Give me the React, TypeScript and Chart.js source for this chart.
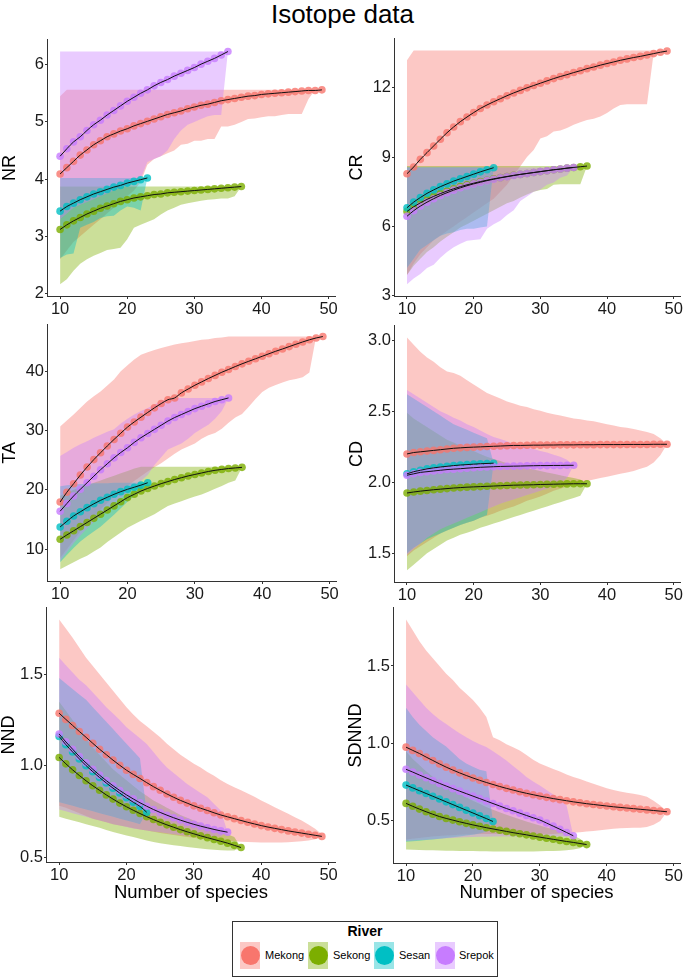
import React, { useEffect, useRef } from 'react';
import { Chart, registerables } from 'chart.js';

Chart.register(...registerables);

const FONT = '"Liberation Sans", Arial, Helvetica, sans-serif';

const rivers = ['Mekong', 'Sekong', 'Sesan', 'Srepok'];
const riverColors = ['#F8766D', '#7CAE00', '#00BFC4', '#C77CFF'];
const speciesCounts = [10, 11, 12, 13, 14, 15, 16, 17, 18, 19, 20, 21, 22, 23, 24, 25, 26, 27, 28, 29, 30, 31, 32, 33, 34, 35, 36, 37, 38, 39, 40, 41, 42, 43, 44, 45, 46, 47, 48, 49];
const xTicks = [10, 20, 30, 40, 50];

// ---------- NR ----------
const nrMekongMean = [4.09, 4.20, 4.31, 4.42, 4.51, 4.60, 4.67, 4.74, 4.79, 4.84, 4.88, 4.93, 4.97, 5.01, 5.05, 5.09, 5.13, 5.16, 5.19, 5.23, 5.26, 5.29, 5.31, 5.34, 5.37, 5.39, 5.41, 5.43, 5.45, 5.46, 5.48, 5.49, 5.50, 5.51, 5.52, 5.53, 5.54, 5.55, 5.55, 5.56];
const nrMekongLo = [2.6, 2.75, 2.9, 3.0, 3.1, 3.2, 3.3, 3.4, 3.5, 3.6, 3.7, 3.8, 3.95, 4.25, 4.35, 4.4, 4.45, 4.5, 4.6, 4.62, 4.67, 4.67, 4.7, 4.7, 4.92, 4.92, 4.95, 5.0, 5.05, 5.06, 5.08, 5.1, 5.1, 5.12, 5.14, 5.14, 5.14, 5.4, 5.56, 5.56];
const nrMekongHi = [5.45, 5.56, 5.56, 5.56, 5.56, 5.56, 5.56, 5.56, 5.56, 5.56, 5.56, 5.56, 5.56, 5.56, 5.56, 5.56, 5.56, 5.56, 5.56, 5.56, 5.56, 5.56, 5.56, 5.56, 5.56, 5.56, 5.56, 5.56, 5.56, 5.56, 5.56, 5.56, 5.56, 5.56, 5.56, 5.56, 5.56, 5.56, 5.56, 5.56];
const nrSekongMean = [3.12, 3.20, 3.27, 3.33, 3.39, 3.44, 3.49, 3.53, 3.57, 3.61, 3.64, 3.67, 3.69, 3.71, 3.73, 3.74, 3.76, 3.77, 3.78, 3.79, 3.80, 3.81, 3.82, 3.83, 3.84, 3.85, 3.86, 3.87];
const nrSekongLo = [2.16, 2.25, 2.4, 2.52, 2.6, 2.66, 2.71, 2.76, 2.78, 2.8, 2.95, 3.15, 3.2, 3.25, 3.3, 3.38, 3.45, 3.5, 3.55, 3.58, 3.6, 3.62, 3.64, 3.65, 3.66, 3.66, 3.7, 3.87];
const nrSekongHi = [3.87, 3.87, 3.87, 3.87, 3.87, 3.87, 3.87, 3.87, 3.87, 3.87, 3.87, 3.87, 3.87, 3.87, 3.87, 3.87, 3.87, 3.87, 3.87, 3.87, 3.87, 3.87, 3.87, 3.87, 3.87, 3.87, 3.87, 3.87];
const nrSesanMean = [3.44, 3.52, 3.58, 3.64, 3.69, 3.74, 3.78, 3.82, 3.86, 3.89, 3.93, 3.96, 3.99, 4.02];
const nrSesanLo = [2.62, 2.68, 2.70, 3.15, 3.2, 3.25, 3.32, 3.35, 3.36, 3.45, 3.52, 3.5, 3.45, 4.02];
const nrSesanHi = [4.02, 4.02, 4.02, 4.02, 4.02, 4.02, 4.02, 4.02, 4.02, 4.02, 4.02, 4.02, 4.02, 4.02];
const nrSrepokMean = [4.40, 4.53, 4.65, 4.74, 4.85, 4.95, 5.03, 5.12, 5.20, 5.28, 5.36, 5.43, 5.50, 5.56, 5.63, 5.69, 5.74, 5.80, 5.85, 5.90, 5.95, 6.01, 6.06, 6.11, 6.17, 6.23];
const nrSrepokLo = [3.3, 3.4, 3.5, 3.55, 3.6, 3.65, 3.7, 3.75, 3.8, 3.85, 3.9, 3.95, 4.0, 4.3, 4.35, 4.4, 4.5, 4.7, 4.85, 4.95, 5.0, 5.05, 5.1, 5.12, 5.12, 6.23];
const nrSrepokHi = [6.23, 6.23, 6.23, 6.23, 6.23, 6.23, 6.23, 6.23, 6.23, 6.23, 6.23, 6.23, 6.23, 6.23, 6.23, 6.23, 6.23, 6.23, 6.23, 6.23, 6.23, 6.23, 6.23, 6.23, 6.23, 6.23];

// ---------- CR ----------
const crMekongMean = [8.28, 8.57, 8.9, 9.19, 9.48, 9.77, 10.05, 10.3, 10.53, 10.73, 10.92, 11.1, 11.25, 11.39, 11.52, 11.65, 11.77, 11.88, 11.99, 12.09, 12.19, 12.29, 12.39, 12.48, 12.56, 12.65, 12.73, 12.82, 12.89, 12.97, 13.04, 13.11, 13.18, 13.24, 13.3, 13.35, 13.41, 13.47, 13.53, 13.58];
const crMekongLo = [3.9, 4.4, 4.8, 5.1, 5.4, 5.6, 5.8, 6.0, 6.2, 6.4, 6.6, 6.8, 7.0, 7.2, 7.5, 7.8, 8.2, 8.6, 9.0, 9.3, 9.8, 9.9, 10.1, 10.15, 10.25, 10.4, 10.5, 10.6, 10.65, 10.75, 10.9, 11.1, 11.25, 11.28, 11.28, 11.28, 11.28, 13.5, 13.6, 13.6];
const crMekongHi = [13.18, 13.6, 13.6, 13.6, 13.6, 13.6, 13.6, 13.6, 13.6, 13.6, 13.6, 13.6, 13.6, 13.6, 13.6, 13.6, 13.6, 13.6, 13.6, 13.6, 13.6, 13.6, 13.6, 13.6, 13.6, 13.6, 13.6, 13.6, 13.6, 13.6, 13.6, 13.6, 13.6, 13.6, 13.6, 13.6, 13.6, 13.6, 13.6, 13.6];
const crSekongMean = [6.65, 6.85, 7.02, 7.17, 7.3, 7.42, 7.53, 7.63, 7.72, 7.8, 7.87, 7.94, 8.0, 8.06, 8.11, 8.16, 8.21, 8.25, 8.29, 8.33, 8.37, 8.41, 8.45, 8.48, 8.52, 8.55, 8.58, 8.61];
const crSekongLo = [3.9, 4.3, 4.6, 4.9, 5.1, 5.35, 5.55, 5.75, 5.95, 6.1, 6.25, 6.4, 6.55, 6.7, 6.85, 7.0, 7.1, 7.25, 7.38, 7.5, 7.58, 7.62, 7.8, 7.82, 7.82, 7.82, 7.82, 8.61];
const crSekongHi = [8.61, 8.61, 8.61, 8.61, 8.61, 8.61, 8.61, 8.61, 8.61, 8.61, 8.61, 8.61, 8.61, 8.61, 8.61, 8.61, 8.61, 8.61, 8.61, 8.61, 8.61, 8.61, 8.61, 8.61, 8.61, 8.61, 8.61, 8.61];
const crSesanMean = [6.81, 7.05, 7.25, 7.43, 7.58, 7.72, 7.84, 7.96, 8.06, 8.16, 8.26, 8.36, 8.45, 8.54];
const crSesanLo = [4.2, 4.6, 5.0, 5.2, 5.4, 5.6, 5.7, 5.75, 5.85, 5.9, 5.9, 5.95, 6.0, 8.54];
const crSesanHi = [8.56, 8.56, 8.56, 8.56, 8.56, 8.56, 8.56, 8.56, 8.56, 8.56, 8.56, 8.56, 8.56, 8.54];
const crSrepokMean = [6.44, 6.68, 6.88, 7.05, 7.2, 7.34, 7.46, 7.57, 7.67, 7.76, 7.84, 7.91, 7.98, 8.04, 8.1, 8.15, 8.2, 8.25, 8.29, 8.33, 8.37, 8.41, 8.45, 8.48, 8.52, 8.55];
const crSrepokLo = [3.5, 3.75, 3.95, 4.2, 4.35, 4.65, 4.9, 5.1, 5.25, 5.38, 5.42, 5.45, 5.9, 6.1, 6.25, 6.5, 6.7, 7.1, 7.3, 7.5, 7.6, 7.8, 7.9, 8.1, 8.2, 8.55];
const crSrepokHi = [8.55, 8.55, 8.55, 8.55, 8.55, 8.55, 8.55, 8.55, 8.55, 8.55, 8.55, 8.55, 8.55, 8.55, 8.55, 8.55, 8.55, 8.55, 8.55, 8.55, 8.55, 8.55, 8.55, 8.55, 8.55, 8.55];

// ---------- TA ----------
const taMekongMean = [17.96, 19.6, 21.04, 22.5, 23.85, 25.1, 26.26, 27.4, 28.5, 29.55, 30.58, 31.45, 32.26, 33.05, 33.83, 34.55, 35.2, 35.5, 36.35, 37.0, 37.64, 38.2, 38.77, 39.3, 39.83, 40.3, 40.79, 41.25, 41.68, 42.1, 42.52, 42.95, 43.37, 43.75, 44.15, 44.55, 44.94, 45.3, 45.61, 45.85];
const taMekongLo = [8.5, 10, 11.5, 13, 14.3, 15.5, 16.7, 17.8, 18.8, 19.8, 20.7, 21.5, 22.3, 23.1, 23.8, 24.5, 25.3, 26.1, 26.8, 27.3, 27.8, 28.6, 29.2, 29.6, 30.3, 31.3, 32.2, 32.8, 34.0, 35.3, 36.5, 37.2, 37.7, 38.1, 38.5, 38.7, 39.0, 39.8, 45.85, 45.85];
const taMekongHi = [30.7, 31.7, 32.7, 33.8, 34.9, 35.8, 36.6, 37.6, 38.6, 40.0, 41.0, 42.0, 42.8, 43.2, 43.6, 43.9, 44.2, 44.5, 44.7, 44.9, 45.1, 45.3, 45.4, 45.6, 45.7, 45.85, 45.85, 45.85, 45.85, 45.85, 45.85, 45.85, 45.85, 45.85, 45.85, 45.85, 45.85, 45.85, 45.85, 45.85];
const taSekongMean = [11.68, 12.4, 13.1, 13.8, 14.5, 15.2, 15.9, 16.6, 17.3, 18.0, 18.7, 19.25, 19.8, 20.25, 20.65, 21.05, 21.4, 21.75, 22.05, 22.35, 22.6, 22.85, 23.1, 23.3, 23.45, 23.6, 23.7, 23.8];
const taSekongLo = [6.6, 7.2, 7.8, 8.4, 8.9, 9.6, 10.3, 11.2, 12.0, 12.8, 13.6, 14.2, 14.8, 15.35, 15.9, 16.6, 17.3, 17.7, 18.1, 18.5, 18.9, 19.2, 19.7, 20.2, 20.65, 21.2, 21.6, 23.8];
const taSekongHi = [19.0, 19.5, 20.0, 20.4, 20.8, 21.2, 21.6, 22.0, 22.4, 22.8, 23.2, 23.6, 23.9, 23.9, 23.9, 23.9, 23.9, 23.9, 23.9, 23.9, 23.9, 23.9, 23.9, 23.9, 23.9, 23.9, 23.9, 23.8];
const taSesanMean = [13.75, 14.7, 15.6, 16.3, 17.0, 17.65, 18.24, 18.75, 19.25, 19.7, 20.1, 20.45, 20.8, 21.2];
const taSesanLo = [7.8, 9.0, 10.2, 11.3, 12.2, 13.0, 13.8, 14.8, 15.8, 16.9, 18.0, 19.0, 20.0, 21.2];
const taSesanHi = [20.6, 20.8, 20.9, 21.0, 21.0, 21.1, 21.1, 21.1, 21.2, 21.2, 21.2, 21.2, 21.2, 21.2];
const taSrepokMean = [16.4, 17.7, 18.97, 20.1, 21.2, 22.3, 23.4, 24.4, 25.4, 26.3, 27.1, 28.0, 28.8, 29.5, 30.2, 30.9, 31.6, 32.2, 32.7, 33.2, 33.7, 34.1, 34.5, 34.9, 35.2, 35.5];
const taSrepokLo = [8, 9.5, 11, 12.3, 13.5, 14.6, 15.7, 16.7, 17.7, 18.6, 19.5, 20.5, 21.5, 22.5, 24.2, 25.5, 26.8, 27.3, 27.8, 28.6, 29.6, 30.3, 31.0, 32.0, 33.3, 35.5];
const taSrepokHi = [25.7, 26.4, 27.1, 27.7, 28.2, 28.8, 29.3, 29.8, 30.2, 31.2, 32.0, 32.7, 33.3, 33.8, 34.4, 35.0, 35.3, 35.5, 35.5, 35.5, 35.5, 35.5, 35.5, 35.5, 35.5, 35.5];

// ---------- CD ----------
const cdMekongMean = [2.20, 2.21, 2.215, 2.22, 2.225, 2.23, 2.235, 2.24, 2.243, 2.246, 2.248, 2.25, 2.252, 2.254, 2.256, 2.258, 2.26, 2.26, 2.261, 2.262, 2.262, 2.263, 2.263, 2.264, 2.264, 2.264, 2.265, 2.265, 2.265, 2.266, 2.266, 2.266, 2.266, 2.267, 2.267, 2.267, 2.267, 2.268, 2.268, 2.268];
const cdMekongLo = [1.48, 1.52, 1.55, 1.58, 1.61, 1.64, 1.66, 1.68, 1.70, 1.715, 1.73, 1.75, 1.765, 1.78, 1.80, 1.815, 1.83, 1.85, 1.87, 1.885, 1.90, 1.92, 1.94, 1.955, 1.97, 1.985, 2.0, 2.01, 2.02, 2.03, 2.04, 2.05, 2.06, 2.07, 2.08, 2.095, 2.11, 2.14, 2.19, 2.268];
const cdMekongHi = [3.02, 2.97, 2.92, 2.88, 2.85, 2.81, 2.78, 2.77, 2.75, 2.72, 2.69, 2.66, 2.63, 2.61, 2.59, 2.57, 2.555, 2.54, 2.53, 2.515, 2.505, 2.49, 2.48, 2.47, 2.46, 2.45, 2.445, 2.435, 2.43, 2.42, 2.41, 2.40, 2.39, 2.385, 2.375, 2.365, 2.355, 2.34, 2.31, 2.268];
const cdSekongMean = [1.925, 1.932, 1.938, 1.943, 1.948, 1.952, 1.956, 1.96, 1.963, 1.966, 1.968, 1.97, 1.972, 1.974, 1.976, 1.978, 1.98, 1.981, 1.982, 1.983, 1.985, 1.986, 1.987, 1.988, 1.989, 1.99, 1.99, 1.99];
const cdSekongLo = [1.38, 1.42, 1.46, 1.5, 1.53, 1.56, 1.59, 1.61, 1.63, 1.645, 1.66, 1.68, 1.695, 1.71, 1.725, 1.74, 1.755, 1.77, 1.785, 1.8, 1.815, 1.83, 1.845, 1.86, 1.875, 1.89, 1.905, 1.99];
const cdSekongHi = [2.49, 2.45, 2.42, 2.39, 2.36, 2.33, 2.3, 2.28, 2.26, 2.24, 2.22, 2.2, 2.18, 2.165, 2.15, 2.135, 2.12, 2.11, 2.1, 2.09, 2.08, 2.07, 2.06, 2.05, 2.04, 2.03, 2.02, 1.99];
const cdSesanMean = [2.06, 2.075, 2.085, 2.095, 2.102, 2.108, 2.113, 2.118, 2.122, 2.125, 2.128, 2.131, 2.133, 2.135];
const cdSesanLo = [1.5, 1.54, 1.57, 1.6, 1.62, 1.64, 1.66, 1.68, 1.7, 1.715, 1.73, 1.75, 1.77, 2.135];
const cdSesanHi = [2.62, 2.59, 2.56, 2.53, 2.5, 2.47, 2.44, 2.41, 2.39, 2.37, 2.35, 2.33, 2.31, 2.135];
const cdSrepokMean = [2.05, 2.06, 2.07, 2.075, 2.08, 2.085, 2.09, 2.093, 2.096, 2.1, 2.103, 2.106, 2.108, 2.11, 2.112, 2.113, 2.114, 2.115, 2.116, 2.117, 2.118, 2.118, 2.119, 2.119, 2.12, 2.12];
const cdSrepokLo = [1.49, 1.53, 1.57, 1.61, 1.64, 1.67, 1.69, 1.71, 1.73, 1.75, 1.77, 1.79, 1.81, 1.83, 1.85, 1.865, 1.88, 1.895, 1.91, 1.925, 1.94, 1.955, 1.97, 1.99, 2.03, 2.12];
const cdSrepokHi = [2.65, 2.62, 2.59, 2.56, 2.53, 2.50, 2.48, 2.455, 2.435, 2.41, 2.39, 2.365, 2.34, 2.32, 2.305, 2.29, 2.27, 2.26, 2.245, 2.235, 2.22, 2.21, 2.195, 2.18, 2.16, 2.12];

// ---------- NND ----------
const nndMekongMean = [1.287, 1.253, 1.22, 1.187, 1.155, 1.122, 1.09, 1.06, 1.03, 1.002, 0.975, 0.952, 0.93, 0.907, 0.885, 0.865, 0.845, 0.827, 0.81, 0.795, 0.78, 0.767, 0.755, 0.742, 0.73, 0.72, 0.71, 0.7, 0.69, 0.681, 0.672, 0.664, 0.657, 0.65, 0.643, 0.637, 0.631, 0.625, 0.619, 0.613];
const nndMekongLo = [0.78, 0.77, 0.755, 0.74, 0.725, 0.71, 0.70, 0.69, 0.68, 0.672, 0.665, 0.658, 0.651, 0.645, 0.638, 0.632, 0.626, 0.62, 0.615, 0.61, 0.605, 0.60, 0.597, 0.594, 0.591, 0.588, 0.586, 0.584, 0.582, 0.581, 0.58, 0.58, 0.58, 0.58, 0.581, 0.583, 0.586, 0.59, 0.597, 0.613];
const nndMekongHi = [1.80, 1.75, 1.70, 1.645, 1.59, 1.545, 1.5, 1.455, 1.41, 1.365, 1.32, 1.28, 1.245, 1.215, 1.185, 1.155, 1.12, 1.09, 1.06, 1.035, 1.01, 0.99, 0.965, 0.945, 0.92, 0.9, 0.882, 0.865, 0.847, 0.83, 0.81, 0.792, 0.773, 0.755, 0.737, 0.718, 0.70, 0.678, 0.655, 0.625];
const nndSekongMean = [1.045, 1.01, 0.977, 0.946, 0.917, 0.89, 0.865, 0.84, 0.817, 0.795, 0.775, 0.756, 0.738, 0.721, 0.705, 0.69, 0.676, 0.663, 0.65, 0.638, 0.627, 0.616, 0.606, 0.596, 0.586, 0.576, 0.564, 0.552];
const nndSekongLo = [0.72, 0.71, 0.70, 0.69, 0.68, 0.67, 0.66, 0.648, 0.637, 0.627, 0.618, 0.609, 0.6, 0.591, 0.582, 0.576, 0.57, 0.565, 0.56, 0.555, 0.551, 0.547, 0.543, 0.54, 0.537, 0.536, 0.536, 0.552];
const nndSekongHi = [1.35, 1.3, 1.25, 1.2, 1.15, 1.1, 1.06, 1.02, 0.98, 0.95, 0.92, 0.89, 0.86, 0.835, 0.81, 0.79, 0.77, 0.75, 0.73, 0.715, 0.7, 0.685, 0.67, 0.655, 0.64, 0.625, 0.61, 0.552];
const nndSesanMean = [1.16, 1.115, 1.075, 1.037, 1.0, 0.967, 0.935, 0.905, 0.877, 0.85, 0.824, 0.8, 0.777, 0.745];
const nndSesanLo = [0.80, 0.79, 0.78, 0.77, 0.76, 0.75, 0.74, 0.73, 0.72, 0.71, 0.70, 0.69, 0.68, 0.745];
const nndSesanHi = [1.48, 1.45, 1.42, 1.39, 1.36, 1.32, 1.28, 1.24, 1.2, 1.16, 1.12, 1.08, 1.04, 0.745];
const nndSrepokMean = [1.173, 1.13, 1.09, 1.05, 1.015, 0.98, 0.948, 0.918, 0.89, 0.864, 0.84, 0.818, 0.797, 0.778, 0.76, 0.744, 0.729, 0.715, 0.702, 0.69, 0.679, 0.669, 0.66, 0.651, 0.643, 0.636];
const nndSrepokLo = [0.76, 0.75, 0.74, 0.73, 0.72, 0.71, 0.70, 0.69, 0.68, 0.672, 0.664, 0.656, 0.65, 0.645, 0.64, 0.635, 0.63, 0.625, 0.62, 0.617, 0.614, 0.612, 0.61, 0.61, 0.612, 0.636];
const nndSrepokHi = [1.59, 1.55, 1.51, 1.47, 1.44, 1.40, 1.36, 1.32, 1.285, 1.25, 1.21, 1.18, 1.15, 1.118, 1.075, 1.03, 0.99, 0.96, 0.93, 0.9, 0.875, 0.85, 0.827, 0.79, 0.755, 0.636];

// ---------- SDNND ----------
const sdMekongMean = [0.976, 0.955, 0.935, 0.912, 0.89, 0.868, 0.847, 0.828, 0.81, 0.793, 0.777, 0.762, 0.748, 0.735, 0.722, 0.71, 0.699, 0.688, 0.678, 0.669, 0.66, 0.652, 0.644, 0.637, 0.63, 0.623, 0.617, 0.611, 0.606, 0.601, 0.596, 0.591, 0.587, 0.583, 0.579, 0.575, 0.571, 0.567, 0.563, 0.559];
const sdMekongLo = [0.38, 0.385, 0.39, 0.395, 0.4, 0.403, 0.406, 0.408, 0.41, 0.412, 0.414, 0.415, 0.416, 0.416, 0.415, 0.414, 0.413, 0.412, 0.412, 0.412, 0.413, 0.414, 0.416, 0.418, 0.42, 0.423, 0.427, 0.431, 0.435, 0.44, 0.445, 0.449, 0.452, 0.454, 0.455, 0.456, 0.46, 0.475, 0.5, 0.559];
const sdMekongHi = [1.80, 1.73, 1.66, 1.60, 1.55, 1.50, 1.45, 1.41, 1.36, 1.32, 1.28, 1.23, 1.17, 1.04, 1.02, 0.995, 0.975, 0.955, 0.925, 0.895, 0.87, 0.852, 0.835, 0.818, 0.8, 0.784, 0.77, 0.755, 0.74, 0.725, 0.71, 0.7, 0.69, 0.682, 0.675, 0.667, 0.655, 0.63, 0.6, 0.559];
const sdSekongMean = [0.613, 0.594, 0.576, 0.559, 0.543, 0.528, 0.516, 0.505, 0.494, 0.484, 0.474, 0.465, 0.456, 0.448, 0.44, 0.432, 0.424, 0.417, 0.41, 0.402, 0.395, 0.388, 0.381, 0.374, 0.367, 0.361, 0.354, 0.347];
const sdSekongLo = [0.315, 0.313, 0.312, 0.311, 0.31, 0.309, 0.308, 0.307, 0.306, 0.305, 0.305, 0.304, 0.304, 0.303, 0.303, 0.303, 0.303, 0.303, 0.303, 0.303, 0.304, 0.305, 0.306, 0.308, 0.311, 0.316, 0.323, 0.347];
const sdSekongHi = [0.95, 0.9, 0.86, 0.82, 0.785, 0.755, 0.725, 0.7, 0.675, 0.652, 0.63, 0.61, 0.59, 0.572, 0.555, 0.54, 0.525, 0.51, 0.496, 0.483, 0.47, 0.458, 0.446, 0.434, 0.42, 0.405, 0.385, 0.347];
const sdSesanMean = [0.731, 0.713, 0.695, 0.677, 0.659, 0.641, 0.623, 0.605, 0.587, 0.569, 0.551, 0.533, 0.515, 0.496];
const sdSesanLo = [0.365, 0.368, 0.372, 0.376, 0.38, 0.385, 0.39, 0.395, 0.4, 0.405, 0.41, 0.418, 0.43, 0.496];
const sdSesanHi = [1.23, 1.17, 1.12, 1.08, 1.04, 1.01, 0.98, 0.94, 0.9, 0.87, 0.85, 0.83, 0.82, 0.496];
const sdSrepokMean = [0.833, 0.815, 0.796, 0.778, 0.76, 0.742, 0.725, 0.708, 0.692, 0.676, 0.66, 0.644, 0.628, 0.612, 0.596, 0.58, 0.565, 0.55, 0.535, 0.52, 0.506, 0.486, 0.466, 0.446, 0.425, 0.404];
const sdSrepokLo = [0.37, 0.373, 0.376, 0.379, 0.382, 0.385, 0.388, 0.39, 0.392, 0.394, 0.396, 0.397, 0.398, 0.399, 0.4, 0.4, 0.4, 0.4, 0.4, 0.4, 0.4, 0.4, 0.4, 0.4, 0.4, 0.404];
const sdSrepokHi = [1.38, 1.33, 1.28, 1.23, 1.19, 1.155, 1.126, 1.095, 1.066, 1.04, 1.015, 0.995, 0.977, 0.95, 0.92, 0.89, 0.855, 0.82, 0.784, 0.755, 0.728, 0.7, 0.67, 0.64, 0.6, 0.404];

const nrTicks = [2, 3, 4, 5, 6];
const crTicks = [3, 6, 9, 12];
const taTicks = [10, 20, 30, 40];
const cdTicks = [1.5, 2.0, 2.5, 3.0];
const nndTicks = [0.5, 1.0, 1.5];
const sdTicks = [0.5, 1.0, 1.5];

type Series = [number[], number[], number[]];
interface PanelDef {
  label: string;
  yTicks: number[];
  decimals: number;
  series: Series[];
  area: [number, number, number, number];
}

const panels: PanelDef[] = [
  { label: 'NR', yTicks: nrTicks, decimals: 0, area: [47, 39, 335, 296],
    series: [[nrMekongMean, nrMekongLo, nrMekongHi], [nrSekongMean, nrSekongLo, nrSekongHi], [nrSesanMean, nrSesanLo, nrSesanHi], [nrSrepokMean, nrSrepokLo, nrSrepokHi]] },
  { label: 'CR', yTicks: crTicks, decimals: 0, area: [394, 38, 680, 296],
    series: [[crMekongMean, crMekongLo, crMekongHi], [crSekongMean, crSekongLo, crSekongHi], [crSesanMean, crSesanLo, crSesanHi], [crSrepokMean, crSrepokLo, crSrepokHi]] },
  { label: 'TA', yTicks: taTicks, decimals: 0, area: [47, 324, 336, 581],
    series: [[taMekongMean, taMekongLo, taMekongHi], [taSekongMean, taSekongLo, taSekongHi], [taSesanMean, taSesanLo, taSesanHi], [taSrepokMean, taSrepokLo, taSrepokHi]] },
  { label: 'CD', yTicks: cdTicks, decimals: 1, area: [394, 325, 680, 582],
    series: [[cdMekongMean, cdMekongLo, cdMekongHi], [cdSekongMean, cdSekongLo, cdSekongHi], [cdSesanMean, cdSesanLo, cdSesanHi], [cdSrepokMean, cdSrepokLo, cdSrepokHi]] },
  { label: 'NND', yTicks: nndTicks, decimals: 1, area: [46, 607, 335, 862],
    series: [[nndMekongMean, nndMekongLo, nndMekongHi], [nndSekongMean, nndSekongLo, nndSekongHi], [nndSesanMean, nndSesanLo, nndSesanHi], [nndSrepokMean, nndSrepokLo, nndSrepokHi]] },
  { label: 'SDNND', yTicks: sdTicks, decimals: 1, area: [393, 607, 680, 863],
    series: [[sdMekongMean, sdMekongLo, sdMekongHi], [sdSekongMean, sdSekongLo, sdSekongHi], [sdSesanMean, sdSesanLo, sdSesanHi], [sdSrepokMean, sdSrepokLo, sdSrepokHi]] },
];

const Y_W = 47;
const X_H = 26;
const PAD_T = 10;
const PAD_R = 8;

function rgba(hex: string, a: number) {
  const r = parseInt(hex.slice(1, 3), 16);
  const g = parseInt(hex.slice(3, 5), 16);
  const b = parseInt(hex.slice(5, 7), 16);
  return `rgba(${r},${g},${b},${a})`;
}

function PanelChart({ panel }: { panel: PanelDef }) {
  const ref = useRef<HTMLCanvasElement | null>(null);
  const [L, T, R, B] = panel.area;
  const cl = L - Y_W;
  const ct = T - PAD_T;
  const cw = R - cl + PAD_R;
  const ch = B - ct + X_H;

  useEffect(() => {
    if (!ref.current) return;
    const datasets: any[] = [];
    let lo = Infinity;
    let hi = -Infinity;
    panel.series.forEach(([mean, low, high], ri) => {
      const xs = speciesCounts.slice(0, mean.length);
      const idx = datasets.length;
      low.forEach((v) => { lo = Math.min(lo, v); });
      high.forEach((v) => { hi = Math.max(hi, v); });
      datasets.push({
        data: xs.map((x, i) => ({ x, y: high[i] })),
        borderColor: 'transparent', borderWidth: 0, pointRadius: 0,
        fill: idx + 1, backgroundColor: rgba(riverColors[ri], 0.4), order: 40 - ri,
      });
      datasets.push({
        data: xs.map((x, i) => ({ x, y: low[i] })),
        borderColor: 'transparent', borderWidth: 0, pointRadius: 0, fill: false, order: 40 - ri,
      });
    });
    panel.series.forEach(([mean], ri) => {
      const xs = speciesCounts.slice(0, mean.length);
      datasets.push({
        data: xs.map((x, i) => ({ x, y: mean[i] })),
        showLine: false, pointRadius: 3.8, pointBackgroundColor: rgba(riverColors[ri], 0.8),
        pointBorderWidth: 0, pointBorderColor: 'transparent', borderColor: 'transparent', fill: false, order: 20 - ri,
      });
    });
    panel.series.forEach(([mean], ri) => {
      const xs = speciesCounts.slice(0, mean.length);
      datasets.push({
        data: xs.map((x, i) => ({ x, y: mean[i] })),
        borderColor: '#111', borderWidth: 1, pointRadius: 0, fill: false,
        cubicInterpolationMode: 'monotone', order: 10 - ri,
      });
    });
    const pad = (hi - lo) * 0.05;
    const tickFont = { family: FONT, size: 16.5 };
    const chart = new Chart(ref.current, {
      type: 'line',
      data: { datasets },
      options: {
        animation: false,
        responsive: false,
        maintainAspectRatio: false,
        devicePixelRatio: 1,
        layout: { padding: { left: 0, top: PAD_T, right: PAD_R, bottom: 0 } },
        plugins: { legend: { display: false }, tooltip: { enabled: false }, title: { display: false } },
        scales: {
          x: {
            type: 'linear', min: 8.05, max: 50.95,
            afterBuildTicks: (s: any) => { s.ticks = xTicks.map((v) => ({ value: v })); },
            afterFit: (s: any) => { s.height = X_H; },
            grid: { display: true, drawOnChartArea: false, drawTicks: true, tickLength: 3, color: '#333' },
            border: { display: true, color: '#333', width: 1 },
            ticks: { font: tickFont, color: '#1a1a1a', padding: 1, maxRotation: 0, autoSkip: false },
          },
          y: {
            type: 'linear', min: lo - pad, max: hi + pad,
            afterBuildTicks: (s: any) => { s.ticks = panel.yTicks.map((v) => ({ value: v })); },
            afterFit: (s: any) => { s.width = Y_W; },
            grid: { display: true, drawOnChartArea: false, drawTicks: true, tickLength: 2, color: '#333' },
            border: { display: true, color: '#333', width: 1 },
            ticks: {
              font: tickFont, color: '#1a1a1a', padding: 1, autoSkip: false,
              callback: (v: any) => Number(v).toFixed(panel.decimals),
            },
            title: { display: true, text: panel.label, font: { family: FONT, size: 18 }, color: '#000', padding: { top: -1, bottom: 0 } },
          },
        },
      } as any,
    });
    return () => chart.destroy();
  }, [panel]);

  return (
    <canvas
      ref={ref}
      width={cw}
      height={ch}
      style={{ position: 'absolute', left: cl, top: ct, width: cw, height: ch }}
    />
  );
}

const legendKeys = [
  { keyLeft: 240, textLeft: 265 },
  { keyLeft: 308, textLeft: 333 },
  { keyLeft: 374, textLeft: 399 },
  { keyLeft: 435, textLeft: 459 },
];

export default function App() {
  return (
    <div style={{ position: 'absolute', left: 0, top: 0, width: 685, height: 978, background: '#fff', fontFamily: FONT, overflow: 'hidden' }}>
      <div style={{ position: 'absolute', left: 0, top: -1, width: 685, textAlign: 'center', fontSize: 26, lineHeight: '30px', color: '#000' }}>
        Isotope data
      </div>
      {panels.map((p) => <PanelChart key={p.label} panel={p} />)}
      <div style={{ position: 'absolute', left: 47, width: 288, top: 881, textAlign: 'center', fontSize: 18.5, lineHeight: '22px', color: '#000' }}>
        Number of species
      </div>
      <div style={{ position: 'absolute', left: 393, width: 287, top: 881, textAlign: 'center', fontSize: 18.5, lineHeight: '22px', color: '#000' }}>
        Number of species
      </div>
      <div style={{ position: 'absolute', left: 232, top: 921, width: 264, height: 54, border: '1px solid #333', background: '#fff' }} />
      <div style={{ position: 'absolute', left: 232, top: 922, width: 266, textAlign: 'center', fontSize: 14, fontWeight: 'bold', lineHeight: '18px', color: '#000' }}>
        River
      </div>
      {rivers.map((r, i) => (
        <React.Fragment key={r}>
          <div style={{ position: 'absolute', left: legendKeys[i].keyLeft, top: 942, width: 20, height: 27, background: rgba(riverColors[i], 0.4) }} />
          <div style={{ position: 'absolute', left: legendKeys[i].keyLeft + 0.5, top: 946, width: 19, height: 19, borderRadius: '50%', background: riverColors[i] }} />
          <div style={{ position: 'absolute', left: legendKeys[i].textLeft, top: 948, fontSize: 11, lineHeight: '14px', color: '#000' }}>
            {r}
          </div>
        </React.Fragment>
      ))}
    </div>
  );
}
